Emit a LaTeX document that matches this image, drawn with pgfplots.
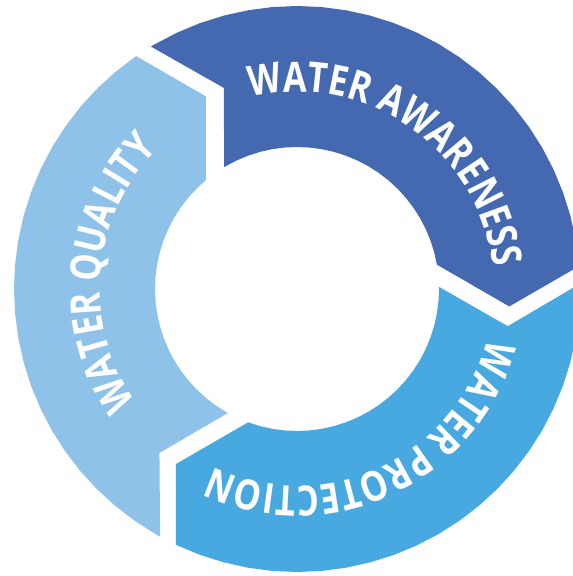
\documentclass[border=0pt]{standalone}
\usepackage{fontspec}
\setmainfont{Open Sans}
\newfontfamily\labfont[FakeStretch=0.82]{Open Sans}
\usepackage{pgfplots}
\pgfplotsset{compat=1.18}
\usetikzlibrary{decorations.text}

\definecolor{aware}{RGB}{68,105,177}
\definecolor{protect}{RGB}{71,169,223}
\definecolor{quality}{RGB}{142,194,232}

% ring: outer radius 283, inner 142; each piece is a chevron, given as (angle, radius)
\begin{document}
\begin{tikzpicture}
\begin{axis}[
  x=1bp, y=1bp,
  xmin=-297, xmax=276, ymin=-287, ymax=289,
  hide axis, clip=true,
]
% water awareness
\addplot[fill=aware, draw=none, data cs=polar] coordinates {
  (121.07,283) (120,283) (115,283) (110,283) (105,283) (100,283) (95,283) (90,283)
  (85,283) (80,283) (75,283) (70,283) (65,283) (60,283) (55,283) (50,283) (45,283)
  (40,283) (35,283) (30,283) (25,283) (20,283) (15,283) (10,283) (5,283) (4.63,283)
  (-4.7,213)
  (9.87,142) (15,142) (20,142) (25,142) (30,142) (35,142) (40,142) (45,142) (50,142)
  (55,142) (60,142) (65,142) (70,142) (75,142) (80,142) (85,142) (90,142) (95,142)
  (100,142) (105,142) (110,142) (115,142) (120,142) (120.86,142)
  (110,214)
};
% water protection
\addplot[fill=protect, draw=none, data cs=polar] coordinates {
  (1.07,283) (0,283) (-5,283) (-10,283) (-15,283) (-20,283) (-25,283) (-30,283)
  (-35,283) (-40,283) (-45,283) (-50,283) (-55,283) (-60,283) (-65,283) (-70,283)
  (-75,283) (-80,283) (-85,283) (-90,283) (-95,283) (-100,283) (-105,283) (-110,283)
  (-115,283) (-115.37,283)
  (-124.7,213)
  (-110.13,142) (-105,142) (-100,142) (-95,142) (-90,142) (-85,142) (-80,142) (-75,142)
  (-70,142) (-65,142) (-60,142) (-55,142) (-50,142) (-45,142) (-40,142) (-35,142)
  (-30,142) (-25,142) (-20,142) (-15,142) (-10,142) (-5,142) (0,142) (0.86,142)
  (-10,214)
};
% water quality
\addplot[fill=quality, draw=none, data cs=polar] coordinates {
  (241.07,283) (240,283) (235,283) (230,283) (225,283) (220,283) (215,283) (210,283)
  (205,283) (200,283) (195,283) (190,283) (185,283) (180,283) (175,283) (170,283)
  (165,283) (160,283) (155,283) (150,283) (145,283) (140,283) (135,283) (130,283)
  (125,283) (124.63,283)
  (115.3,213)
  (129.87,142) (135,142) (140,142) (145,142) (150,142) (155,142) (160,142) (165,142)
  (170,142) (175,142) (180,142) (185,142) (190,142) (195,142) (200,142) (205,142)
  (210,142) (215,142) (220,142) (225,142) (230,142) (235,142) (240,142) (240.86,142)
  (230,214)
};

\path[decorate, decoration={text along path, text align=center, text color=white,
    text={|\labfont\fontsize{42}{42}\selectfont\bfseries|WATER AWARENESS}}]
  ([shift={(110:197bp)}]axis cs:0,0) arc[start angle=110, end angle=0, radius=197bp];
\path[decorate, decoration={text along path, text align=center, text color=white,
    text={|\labfont\fontsize{42}{42}\selectfont\bfseries|WATER PROTECTION}}]
  ([shift={(-10:197bp)}]axis cs:0,0) arc[start angle=-10, end angle=-120, radius=197bp];
\path[decorate, decoration={text along path, text align=center, text color=white,
    text={|\labfont\fontsize{42}{42}\selectfont\bfseries|WATER QUALITY}}]
  ([shift={(230:197bp)}]axis cs:0,0) arc[start angle=230, end angle=120, radius=197bp];
\end{axis}
\pgfresetboundingbox
\useasboundingbox (current axis.south west) rectangle (current axis.north east);
\end{tikzpicture}
\end{document}
